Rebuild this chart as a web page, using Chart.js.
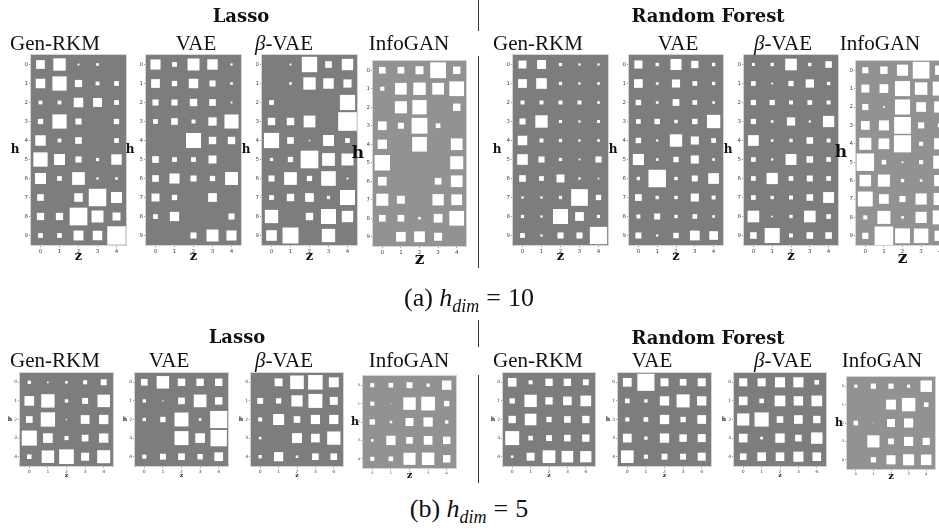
<!DOCTYPE html>
<html>
<head>
<meta charset="utf-8">
<script src="https://cdn.jsdelivr.net/npm/chart.js@4.4.1/dist/chart.umd.min.js"></script>
<style>
body { margin: 0; width: 939px; height: 532px; overflow: hidden; background: #fff; position: relative; }
.t { position: absolute; transform: translate(-50%, -50%); white-space: nowrap; font-family: 'Liberation Serif', serif; color: #111; }
.title { font-size: 21px; }
.head { font-family: 'DejaVu Serif', serif; font-weight: bold; font-size: 18px; }
.cap { font-size: 26px; }
.cap sub { font-size: 18px; font-style: italic; }
.cap .eq { margin: 0 7px; }
.vl { position: absolute; width: 1px; background: #333; left: 478px; }
canvas { position: absolute; }
</style>
</head>
<body>
<script>
// tick labels
const zTicks = ['0', '1', '2', '3', '4'];
const hTicks10 = ['0', '1', '2', '3', '4', '5', '6', '7', '8', '9'];
const hTicks5 = ['0', '1', '2', '3', '4'];

// square side as a fraction of the cell, rows = h, columns = z
// (a) h_dim = 10, Lasso
const lassoGen10 = [
    [0.46, 0.65, 0.10, 0.14, 0],
    [0.50, 0.75, 0.38, 0.20, 0.25],
    [0.20, 0.20, 0.50, 0.47, 0.25],
    [0.28, 0.75, 0.32, 0, 0.28],
    [0.55, 0.20, 0.35, 0, 0.25],
    [0.75, 0.58, 0.32, 0.17, 0.55],
    [0.58, 0.25, 0.67, 0.12, 0.14],
    [0.35, 0, 0.45, 0.92, 0.58],
    [0.38, 0.38, 0.93, 0.63, 0.42],
    [0.25, 0.25, 0.52, 0.50, 0.97]
];
const lassoVae10 = [
    [0.53, 0.25, 0.63, 0.55, 0.12],
    [0.46, 0.28, 0.50, 0.32, 0.14],
    [0.32, 0.32, 0.39, 0.35, 0.10],
    [0.25, 0.35, 0.21, 0.44, 0.74],
    [0, 0, 0.79, 0.39, 0.39],
    [0.35, 0.25, 0.25, 0.42, 0],
    [0.35, 0.53, 0.32, 0.28, 0.68],
    [0.42, 0.28, 0, 0.46, 0],
    [0.25, 0.49, 0, 0, 0.32],
    [0, 0, 0.32, 0.63, 0.53]
];
const lassoBeta10 = [
    [0, 0.10, 0.81, 0.35, 0.60],
    [0, 0.14, 0.65, 0.55, 0.43],
    [0.25, 0, 0, 0, 0.80],
    [0.39, 0.39, 0.62, 0, 0.98],
    [0.80, 0.35, 0.08, 0.58, 0.25],
    [0.17, 0.28, 0.93, 0.67, 0.63],
    [0.32, 0.67, 0.28, 0.77, 0.10],
    [0.25, 0.39, 0.46, 0.17, 0.79],
    [0.70, 0, 0.39, 0.79, 0.60],
    [0.56, 0.84, 0, 0.70, 0]
];
const lassoInfo10 = [
    [0.36, 0.36, 0.43, 0.85, 0.40],
    [0.22, 0.63, 0.67, 0.63, 0.79],
    [0, 0.65, 0.77, 0, 0.40],
    [0.47, 0.32, 0.85, 0.25, 0],
    [0.50, 0, 0.79, 0, 0.63],
    [0.83, 0, 0, 0, 0.70],
    [0.47, 0, 0, 0.36, 0.63],
    [0.65, 0.43, 0, 0.61, 0.58],
    [0.36, 0.36, 0.14, 0.47, 0.79],
    [0, 0.52, 0.58, 0.43, 0]
];
// (a) h_dim = 10, Random Forest
const rfGen10 = [
    [0.42, 0.47, 0.17, 0.12, 0.12],
    [0.46, 0.56, 0.17, 0.12, 0.14],
    [0.21, 0.21, 0.21, 0.21, 0.14],
    [0.32, 0.65, 0.17, 0.12, 0.16],
    [0.50, 0.21, 0.17, 0.12, 0.14],
    [0.56, 0.32, 0.17, 0.10, 0.32],
    [0.35, 0.25, 0.42, 0.12, 0.09],
    [0.12, 0.12, 0.17, 0.88, 0.28],
    [0.17, 0.12, 0.79, 0.46, 0.17],
    [0.25, 0.12, 0.32, 0.32, 0.91]
];
const rfVae10 = [
    [0.43, 0.18, 0.59, 0.39, 0.18],
    [0.46, 0.14, 0.43, 0.25, 0.18],
    [0.29, 0.14, 0.36, 0.25, 0.14],
    [0.25, 0.29, 0.18, 0.29, 0.71],
    [0.29, 0.12, 0.66, 0.43, 0.25],
    [0.59, 0.14, 0.29, 0.43, 0.14],
    [0.18, 0.93, 0.18, 0.32, 0.57],
    [0.36, 0.18, 0.18, 0.43, 0.21],
    [0.21, 0.32, 0.18, 0.25, 0.14],
    [0.32, 0.12, 0.29, 0.52, 0.46]
];
const rfBeta10 = [
    [0.16, 0.18, 0.62, 0.18, 0.35],
    [0.25, 0.10, 0.28, 0.44, 0.18],
    [0.28, 0.28, 0.21, 0.25, 0.21],
    [0.28, 0.14, 0.44, 0.12, 0.60],
    [0.57, 0.14, 0.18, 0.35, 0.21],
    [0.25, 0.12, 0.58, 0.35, 0.25],
    [0.25, 0.60, 0.25, 0.32, 0.25],
    [0.25, 0.18, 0.21, 0.35, 0.58],
    [0.62, 0.09, 0.18, 0.62, 0.25],
    [0.35, 0.80, 0.21, 0.35, 0.35]
];
const rfInfo10 = [
    [0.33, 0.40, 0.60, 0.90, 0.50],
    [0.43, 0.47, 0.81, 0.67, 0.75],
    [0.33, 0.10, 0.81, 0.52, 0.60],
    [0.47, 0.54, 0.90, 0.33, 0.20],
    [0.65, 0.58, 0.92, 0.22, 0.60],
    [0.94, 0.25, 0.10, 0.22, 0.70],
    [0.62, 0.65, 0.18, 0.14, 0.60],
    [0.80, 0.52, 0.33, 0.60, 0.65],
    [0.22, 0.70, 0.14, 0.60, 0.75],
    [0.33, 1.00, 0.80, 0.78, 0.55]
];
// (b) h_dim = 5, Lasso
const lassoGen5 = [
    [0.18, 0.09, 0.14, 0.22, 0.32],
    [0.52, 0.72, 0.18, 0.32, 0.67],
    [0.36, 0.77, 0.07, 0.47, 0.50],
    [0.81, 0.52, 0.22, 0.36, 0.50],
    [0.25, 0.67, 0.79, 0.43, 0.70]
];
const lassoVae5 = [
    [0.36, 0.67, 0.40, 0.40, 0.40],
    [0.18, 0.07, 0.36, 0.68, 0.40],
    [0.18, 0.29, 0.75, 0.14, 0.92],
    [0, 0, 0.75, 0.52, 0.88],
    [0.22, 0.32, 0.36, 0.29, 0.47]
];
const lassoBeta5 = [
    [0, 0.43, 0.74, 0.79, 0.54],
    [0.32, 0.29, 0.61, 0.76, 0.43],
    [0.22, 0.60, 0.36, 0.50, 0.50],
    [0.14, 0, 0.54, 0.47, 0.72],
    [0.18, 0.50, 0.14, 0.36, 0.36]
];
const lassoInfo5 = [
    [0.22, 0.25, 0.32, 0.18, 0.50],
    [0.22, 0.05, 0.67, 0.74, 0.29],
    [0.29, 0.14, 0.43, 0.50, 0.18],
    [0.14, 0.50, 0.36, 0.47, 0.40],
    [0.22, 0.25, 0.65, 0.67, 0.40]
];
// (b) h_dim = 5, Random Forest
const rfGen5 = [
    [0.47, 0.22, 0.40, 0.40, 0.32],
    [0.29, 0.67, 0.40, 0.47, 0.58],
    [0.40, 0.63, 0.29, 0.36, 0.40],
    [0.76, 0.25, 0.32, 0.36, 0.40],
    [0.14, 0.43, 0.69, 0.63, 0.61]
];
const rfVae5 = [
    [0.47, 0.92, 0.43, 0.36, 0.43],
    [0.25, 0.18, 0.50, 0.70, 0.50],
    [0.22, 0.25, 0.50, 0.29, 0.47],
    [0.47, 0.18, 0.50, 0.40, 0.43],
    [0.68, 0.22, 0.32, 0.32, 0.43]
];
const rfBeta5 = [
    [0.44, 0.44, 0.55, 0.55, 0.25],
    [0.47, 0.25, 0.58, 0.51, 0.58],
    [0.66, 0.77, 0.36, 0.47, 0.40],
    [0.47, 0.15, 0.51, 0.36, 0.62],
    [0.36, 0.47, 0.47, 0.55, 0.47]
];
const rfInfo5 = [
    [0.18, 0.30, 0.30, 0.18, 0.65],
    [0, 0, 0.56, 0.76, 0.26],
    [0.26, 0.05, 0.45, 0.52, 0],
    [0, 0.69, 0.33, 0.52, 0.41],
    [0, 0.30, 0.52, 0.63, 0.60]
];

// panel styles
const kinds = {
    top:     { yW: 26, xH: 19, bg: '#7d7d7d', tick: 5.5, hSize: 12, hOff: 16, zSize: 13 },
    topInfo: { yW: 26, xH: 24, bg: '#929292', tick: 5.5, hSize: 17, hOff: 15, zSize: 17 },
    bot:     { yW: 16, xH: 13, bg: '#7d7d7d', tick: 4.5, hSize: 6,  hOff: 10, zSize: 6 },
    botInfo: { yW: 16, xH: 13, bg: '#929292', tick: 3.5, hSize: 11, hOff: 8,  zSize: 10 }
};
const padT = 8;

// where each panel goes: plot box [left, top, width, height], title centre
const panels = [
    { title: 'Gen-RKM', grid: lassoGen10, h: hTicks10, kind: 'top', box: [31, 55, 95, 190], tx: 55, ty: 43 },
    { title: 'VAE', grid: lassoVae10, h: hTicks10, kind: 'top', box: [146, 55, 95, 190], tx: 196, ty: 43 },
    { title: '<i>β</i>-VAE', grid: lassoBeta10, h: hTicks10, kind: 'top', box: [262, 55, 95, 190], tx: 284, ty: 43 },
    { title: 'InfoGAN', grid: lassoInfo10, h: hTicks10, kind: 'topInfo', box: [373, 61, 93, 185], tx: 409, ty: 43 },
    { title: 'Gen-RKM', grid: rfGen10, h: hTicks10, kind: 'top', box: [513, 55, 95, 190], tx: 538, ty: 43 },
    { title: 'VAE', grid: rfVae10, h: hTicks10, kind: 'top', box: [629, 55, 94, 190], tx: 678, ty: 43 },
    { title: '<i>β</i>-VAE', grid: rfBeta10, h: hTicks10, kind: 'top', box: [744, 55, 94, 190], tx: 783, ty: 43 },
    { title: 'InfoGAN', grid: rfInfo10, h: hTicks10, kind: 'topInfo', box: [856, 61, 93, 184], tx: 880, ty: 43 },

    { title: 'Gen-RKM', grid: lassoGen5, h: hTicks5, kind: 'bot', box: [20, 373, 93, 93], tx: 55, ty: 360 },
    { title: 'VAE', grid: lassoVae5, h: hTicks5, kind: 'bot', box: [135, 373, 93, 93], tx: 169, ty: 360 },
    { title: '<i>β</i>-VAE', grid: lassoBeta5, h: hTicks5, kind: 'bot', box: [251, 373, 92, 93], tx: 284, ty: 360 },
    { title: 'InfoGAN', grid: lassoInfo5, h: hTicks5, kind: 'botInfo', box: [363, 376, 93, 92], tx: 409, ty: 360 },
    { title: 'Gen-RKM', grid: rfGen5, h: hTicks5, kind: 'bot', box: [503, 373, 92, 93], tx: 538, ty: 360 },
    { title: 'VAE', grid: rfVae5, h: hTicks5, kind: 'bot', box: [618, 373, 93, 93], tx: 652, ty: 360 },
    { title: '<i>β</i>-VAE', grid: rfBeta5, h: hTicks5, kind: 'bot', box: [734, 373, 92, 93], tx: 783, ty: 360 },
    { title: 'InfoGAN', grid: rfInfo5, h: hTicks5, kind: 'botInfo', box: [847, 377, 88, 92], tx: 882, ty: 360 }
];

// gray background, light frame and upright "h" label
const hintonBg = {
    id: 'hintonBg',
    beforeDatasetsDraw(chart, args, opts) {
        const { ctx, chartArea: a } = chart;
        ctx.save();
        ctx.fillStyle = opts.bg;
        ctx.fillRect(a.left, a.top, a.width, a.height);
        ctx.restore();
    },
    afterDraw(chart, args, opts) {
        const { ctx, chartArea: a } = chart;
        ctx.save();
        ctx.strokeStyle = '#d4d4d4';
        ctx.lineWidth = 1;
        ctx.strokeRect(a.left - 0.5, a.top - 0.5, a.width + 1, a.height + 1);
        ctx.fillStyle = '#111';
        ctx.font = 'bold ' + opts.hSize + 'px "DejaVu Serif", serif';
        ctx.textAlign = 'center';
        ctx.textBaseline = 'middle';
        ctx.fillText('h', a.left - opts.hOff, (a.top + a.bottom) / 2);
        ctx.restore();
    }
};

function addText(cls, html, x, y) {
    const d = document.createElement('div');
    d.className = 't ' + cls;
    d.style.left = x + 'px';
    d.style.top = y + 'px';
    d.innerHTML = html;
    document.body.appendChild(d);
}

function axisOpts(labels, k, extra) {
    return Object.assign({
        type: 'linear',
        min: -0.5,
        max: labels.length - 0.5,
        afterBuildTicks: s => { s.ticks = labels.map((_, i) => ({ value: i })); },
        ticks: {
            callback: (v, i) => labels[i],
            font: { family: 'DejaVu Sans', size: k.tick },
            color: '#444',
            padding: 1,
            maxRotation: 0
        },
        grid: { display: true, drawOnChartArea: false, drawTicks: true, tickLength: 2, color: '#555', lineWidth: 0.6 },
        border: { display: false }
    }, extra);
}

function makePanel(p) {
    const k = kinds[p.kind];
    const [left, top, w, h] = p.box;
    const canvas = document.createElement('canvas');
    const cw = k.yW + w + 3;
    const ch = padT + h + k.xH;
    canvas.width = cw;
    canvas.height = ch;
    canvas.style.width = cw + 'px';
    canvas.style.height = ch + 'px';
    canvas.style.left = (left - k.yW) + 'px';
    canvas.style.top = (top - padT) + 'px';
    document.body.appendChild(canvas);

    const points = [];
    p.grid.forEach((row, i) => row.forEach((v, j) => {
        if (v > 0) points.push({ x: j, y: i, v: v });
    }));

    new Chart(canvas.getContext('2d'), {
        type: 'scatter',
        data: {
            datasets: [{
                data: points,
                pointStyle: 'rect',
                backgroundColor: '#ffffff',
                borderWidth: 0,
                clip: 0,
                pointRadius: c => {
                    if (!c.raw) return 0;
                    const xs = c.chart.scales.x;
                    const cell = Math.abs(xs.getPixelForValue(1) - xs.getPixelForValue(0));
                    return c.raw.v * cell * Math.SQRT1_2;
                }
            }]
        },
        options: {
            responsive: false,
            animation: false,
            events: [],
            layout: { padding: { top: padT, right: 3, left: 0, bottom: 0 } },
            plugins: {
                legend: { display: false },
                tooltip: { enabled: false },
                hintonBg: { bg: k.bg, hSize: k.hSize, hOff: k.hOff }
            },
            scales: {
                x: axisOpts(zTicks, k, {
                    position: 'bottom',
                    afterFit: s => { s.height = k.xH; },
                    title: {
                        display: true, text: 'z', color: '#111', padding: 0,
                        font: { family: 'DejaVu Serif', weight: 'bold', size: k.zSize }
                    }
                }),
                y: axisOpts(p.h, k, {
                    position: 'left',
                    reverse: true,
                    afterFit: s => { s.width = k.yW; }
                })
            }
        },
        plugins: [hintonBg]
    });

    addText('title', p.title, p.tx, p.ty);
}

panels.forEach(makePanel);

// group headers and captions
addText('head', 'Lasso', 241, 15);
addText('head', 'Random Forest', 708, 15);
addText('head', 'Lasso', 237, 336);
addText('head', 'Random Forest', 708, 337);
addText('cap', '(a)&nbsp;<i>h</i><sub>dim</sub><span class="eq">=</span>10', 469, 300);
addText('cap', '(b)&nbsp;<i>h</i><sub>dim</sub><span class="eq">=</span>5', 469, 511);

// vertical separators
[[0, 31], [56, 268], [320, 347], [375, 483]].forEach(([y0, y1]) => {
    const d = document.createElement('div');
    d.className = 'vl';
    d.style.top = y0 + 'px';
    d.style.height = (y1 - y0) + 'px';
    document.body.appendChild(d);
});
</script>
</body>
</html>
